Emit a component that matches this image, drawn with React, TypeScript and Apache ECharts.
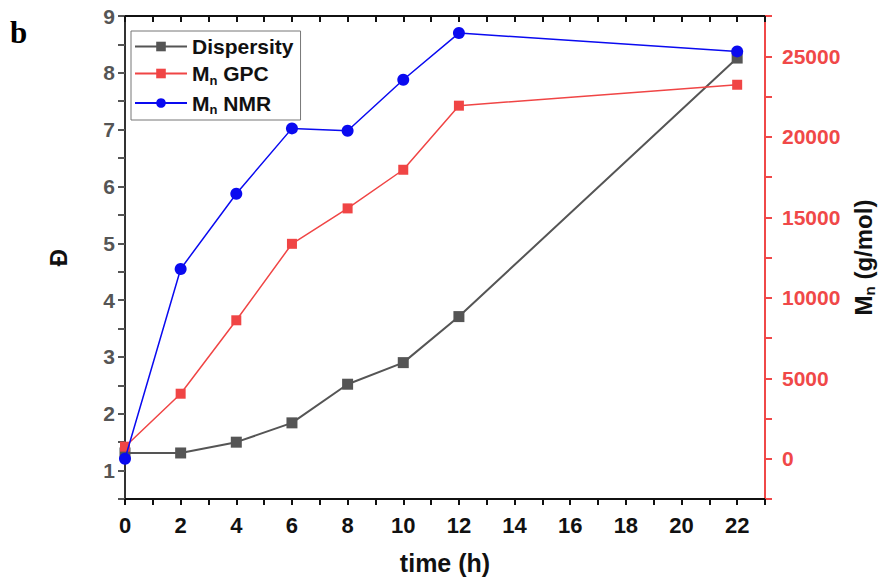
import React, { useEffect, useRef } from "react";
import * as echarts from "echarts";

const times = [0, 2, 4, 6, 8, 10, 12, 22];
const dispersity = [1.31, 1.31, 1.5, 1.84, 2.52, 2.9, 3.71, 8.26];
const mnGPC = [750, 4040, 8600, 13350, 15550, 17950, 21930, 23230];
const mnNMR = [0, 11790, 16460, 20520, 20370, 23540, 26440, 25300];

const FONT = "Liberation Sans, Arial, sans-serif";

const pairs = (ys: number[]) => times.map((t, i) => [t, ys[i]]);

export default function App() {
  const ref = useRef<HTMLDivElement>(null);
  useEffect(() => {
    if (!ref.current) return;
    const chart = echarts.init(ref.current, undefined, { renderer: "svg" });
    chart.setOption({
      animation: false,
      backgroundColor: "#ffffff",
      grid: { left: 125, right: 116, top: 16, bottom: 80, containLabel: false, outerBoundsMode: "none" },
      graphic: [
        {
          type: "text",
          left: 10,
          top: 17,
          style: {
            text: "b",
            font: "bold 31px 'Liberation Serif', 'Times New Roman', serif",
            fill: "#000",
          },
        },
      ],
      legend: {
        orient: "vertical",
        left: 131,
        top: 31,
        backgroundColor: "#fff",
        borderColor: "#777",
        borderWidth: 1,
        padding: [5, 7, 4, 3],
        itemGap: 6,
        itemWidth: 52,
        itemHeight: 12,
        data: ["Dispersity", "Mn GPC", "Mn NMR"],
        formatter: (name: string) => {
          if (name === "Dispersity") return "{t|Dispersity}";
          if (name === "Mn GPC") return "{t|M}{s|n}{t| GPC}";
          return "{t|M}{s|n}{t| NMR}";
        },
        textStyle: {
          rich: {
            t: { fontSize: 21, fontWeight: "bold", fontFamily: FONT, color: "#111", lineHeight: 26 },
            s: { fontSize: 13, fontWeight: "bold", fontFamily: FONT, color: "#111", lineHeight: 13, verticalAlign: "bottom" },
          },
        },
      },
      xAxis: [
        {
          type: "value",
          position: "bottom",
          min: 0,
          max: 23,
          interval: 1,
          name: "time (h)",
          nameLocation: "middle",
          nameGap: 51,
          nameTextStyle: { fontSize: 25, fontWeight: "bold", fontFamily: FONT, color: "#111" },
          axisLine: { show: true, onZero: false, lineStyle: { color: "#111", width: 2 } },
          axisTick: { show: true, inside: false, length: 6, lineStyle: { color: "#111", width: 2 } },
          axisLabel: {
            margin: 15,
            fontSize: 22,
            fontWeight: "bold",
            fontFamily: FONT,
            color: "#111",
            formatter: (v: number) => (v % 2 === 0 && v <= 22 ? String(v) : ""),
          },
          splitLine: { show: false },
        },
        {
          type: "value",
          position: "top",
          min: 0,
          max: 23,
          interval: 1,
          axisLine: { show: true, onZero: false, lineStyle: { color: "#111", width: 2 } },
          axisTick: { show: true, inside: true, length: 6, lineStyle: { color: "#111", width: 2 } },
          axisLabel: { show: false },
          splitLine: { show: false },
        },
      ],
      yAxis: [
        {
          type: "value",
          position: "left",
          min: 0.5,
          max: 9,
          interval: 0.5,
          name: "Đ",
          nameLocation: "middle",
          nameRotate: 90,
          nameGap: 55,
          nameTextStyle: { fontSize: 24, fontWeight: "bold", fontFamily: FONT, color: "#111" },
          axisLine: { show: true, onZero: false, lineStyle: { color: "#333", width: 2 } },
          axisTick: { show: true, inside: false, length: 7, lineStyle: { color: "#555", width: 2 } },
          axisLabel: {
            margin: 10,
            fontSize: 21,
            fontWeight: "bold",
            fontFamily: FONT,
            color: "#555",
            formatter: (v: number) => (Number.isInteger(v) ? String(v) : ""),
          },
          splitLine: { show: false },
        },
        {
          type: "value",
          position: "right",
          min: -2500,
          max: 27500,
          interval: 2500,
          name: "{m|M}{n|n}{m| (g/mol)}",
          nameLocation: "middle",
          nameRotate: 90,
          nameGap: 82,
          nameTextStyle: {
            rich: {
              m: { fontSize: 24, fontWeight: "bold", fontFamily: FONT, color: "#111", lineHeight: 28 },
              n: { fontSize: 15, fontWeight: "bold", fontFamily: FONT, color: "#111", lineHeight: 15, verticalAlign: "bottom" },
            },
          },
          axisLine: { show: true, onZero: false, lineStyle: { color: "#f04848", width: 2 } },
          axisTick: { show: true, inside: false, length: 7, lineStyle: { color: "#f04848", width: 2 } },
          axisLabel: {
            margin: 17,
            fontSize: 21,
            fontWeight: "bold",
            fontFamily: FONT,
            color: "#f04848",
            formatter: (v: number) => (v % 5000 === 0 && v >= 0 ? String(v) : ""),
          },
          splitLine: { show: false },
        },
      ],
      series: [
        {
          name: "Dispersity",
          type: "line",
          xAxisIndex: 0,
          yAxisIndex: 0,
          data: pairs(dispersity),
          symbol: "rect",
          symbolSize: 11,
          itemStyle: { color: "#555555" },
          lineStyle: { color: "#555555", width: 2 },
          z: 2,
        },
        {
          name: "Mn GPC",
          type: "line",
          xAxisIndex: 0,
          yAxisIndex: 1,
          data: pairs(mnGPC),
          symbol: "rect",
          symbolSize: 10,
          itemStyle: { color: "#f04545" },
          lineStyle: { color: "#f04545", width: 1.5 },
          z: 3,
        },
        {
          name: "Mn NMR",
          type: "line",
          xAxisIndex: 0,
          yAxisIndex: 1,
          data: pairs(mnNMR),
          symbol: "circle",
          symbolSize: 12,
          itemStyle: { color: "#0a0af0" },
          lineStyle: { color: "#0a0af0", width: 1.5 },
          z: 4,
        },
      ],
    });
    return () => chart.dispose();
  }, []);
  return <div ref={ref} style={{ width: 881, height: 579, position: "absolute", left: 0, top: 0 }} />;
}
